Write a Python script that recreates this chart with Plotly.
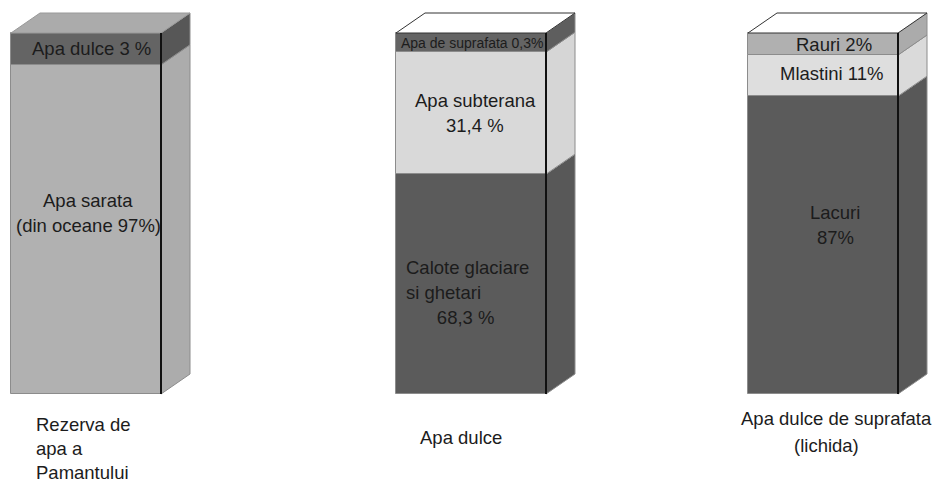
import plotly.graph_objects as go

# ---------------- data ----------------
# Category captions (one list of lines per column)
category_lines = [
    ["Rezerva de", "apa a", "Pamantului"],
    ["Apa dulce"],
    ["Apa dulce de suprafata", "(lichida)\u00a0\u00a0\u00a0\u00a0"],
]

# Stated shares (percent) of each segment, bottom -> top
bar1_pct = [97, 3]
bar2_pct = [68.3, 31.4, 0.3]
bar3_pct = [87, 11, 2]

# Drawn height of each segment (bar total = 100), bottom -> top
bar1_heights = [91.2, 8.8]
bar2_heights = [60.9, 33.8, 5.3]
bar3_heights = [82.5, 11.4, 6.1]

# Segment labels, bottom -> top (lines)
bar1_labels = [["Apa sarata", "(din oceane 97%)"], ["Apa dulce 3 %"]]
bar2_labels = [["Calote glaciare", "si ghetari", "\u00a0" * 6 + "68,3 %"],
               ["Apa subterana", "31,4 %"],
               ["Apa de suprafata 0,3%"]]
bar3_labels = [["Lacuri", "87%"], ["Mlastini 11%"], ["Rauri 2%"]]

# ---------------- layout / style constants ----------------
W, H = 938, 482
BASE_PX = 394          # pixel row of bar bottoms
PX_PER_UNIT = 3.61     # pixels per height unit
BAR_LEFT = [11, 396, 748]
BAR_W = 150
DEPTH_X = 29
DEPTH_Y = 20 / PX_PER_UNIT

FONT = "Liberation Sans, Arial, sans-serif"
TXT = "#1c1c1c"
EDGE = "#8c8c8c"
LINE_PX = 25
FS = 18.5

bar_heights = [bar1_heights, bar2_heights, bar3_heights]
bar_labels = [bar1_labels, bar2_labels, bar3_labels]
front_colors = [["#b1b1b1", "#646464"],
                ["#5b5b5b", "#d9d9d9", "#646464"],
                ["#5b5b5b", "#dedede", "#b0b0b0"]]
side_colors = [["#acacac", "#575757"],
               ["#585858", "#d6d6d6", "#5e5e5e"],
               ["#585858", "#dadada", "#ababab"]]
top_colors = ["#ababab", "#ffffff", "#ffffff"]
top_edges = ["#999999", "#333333", "#333333"]
# label style per segment: (font size, x shift px, y shift px, anchor)
label_style = [
    [(FS, 2, 16, "center"), (FS, 5, 0, "center")],
    [(FS, None, -8, "left"), (FS, 4, 0, "center"), (14, 1, 0, "center")],
    [(FS, 12, 20, "center"), (FS, 9, 2, "center"), (FS, 11, 0, "center")],
]
cat_pos = [(34, "left", 424), (461, "center", 437), (836, "center", 418)]
cat_line_px = [24, 25, 27]


def py(px):
    return (BASE_PX - px) / PX_PER_UNIT


fig = go.Figure()
annotations = []

for i, heights in enumerate(bar_heights):
    xl = BAR_LEFT[i]
    xr = xl + BAR_W
    cx = xl + BAR_W / 2
    base = 0.0
    for j, h in enumerate(heights):
        fig.add_trace(go.Bar(
            x=[cx], y=[h], base=[base], width=[BAR_W],
            marker=dict(color=front_colors[i][j], line=dict(color=EDGE, width=1)),
            showlegend=False, hoverinfo="skip"))
        fig.add_trace(go.Scatter(
            x=[xr, xr + DEPTH_X, xr + DEPTH_X, xr, xr],
            y=[base, base + DEPTH_Y, base + h + DEPTH_Y, base + h, base],
            mode="lines", fill="toself", fillcolor=side_colors[i][j],
            line=dict(color=EDGE, width=1), showlegend=False, hoverinfo="skip"))
        # label
        size, dx, dy, anchor = label_style[i][j]
        lines = bar_labels[i][j]
        mid_px = BASE_PX - (base + h / 2) * PX_PER_UNIT - dy
        n = len(lines)
        for k, line in enumerate(lines):
            ly = mid_px + (k - (n - 1) / 2) * LINE_PX
            if anchor == "left":
                ax, xa = xl + 8, "left"
            else:
                ax, xa = cx + dx, "center"
            annotations.append(dict(
                x=ax, y=py(ly), xref="x", yref="y", text=line, showarrow=False,
                xanchor=xa, yanchor="middle",
                font=dict(family=FONT, size=size, color=TXT)))
        base += h
    top = base
    fig.add_trace(go.Scatter(
        x=[xl, xl + DEPTH_X, xr + DEPTH_X, xr, xl],
        y=[top, top + DEPTH_Y, top + DEPTH_Y, top, top],
        mode="lines", fill="toself", fillcolor=top_colors[i],
        line=dict(color=top_edges[i], width=1), showlegend=False, hoverinfo="skip"))
    fig.add_trace(go.Scatter(
        x=[xr, xr], y=[0, top], mode="lines",
        line=dict(color="#111111", width=2), showlegend=False, hoverinfo="skip"))
    # category caption
    cxp, xa, y0 = cat_pos[i]
    for k, line in enumerate(category_lines[i]):
        annotations.append(dict(
            x=cxp, y=py(y0 + k * cat_line_px[i]), xref="x", yref="y", text=line,
            showarrow=False, xanchor=xa, yanchor="middle",
            font=dict(family=FONT, size=FS, color=TXT)))

fig.update_layout(
    width=W, height=H, autosize=False,
    margin=dict(l=0, r=0, t=0, b=0),
    paper_bgcolor="white", plot_bgcolor="white",
    barmode="overlay", bargap=0,
    xaxis=dict(range=[0, W], visible=False, fixedrange=True),
    yaxis=dict(range=[py(H), py(0)], visible=False, fixedrange=True),
    annotations=annotations,
    showlegend=False,
)

fig.write_html("out.html")
